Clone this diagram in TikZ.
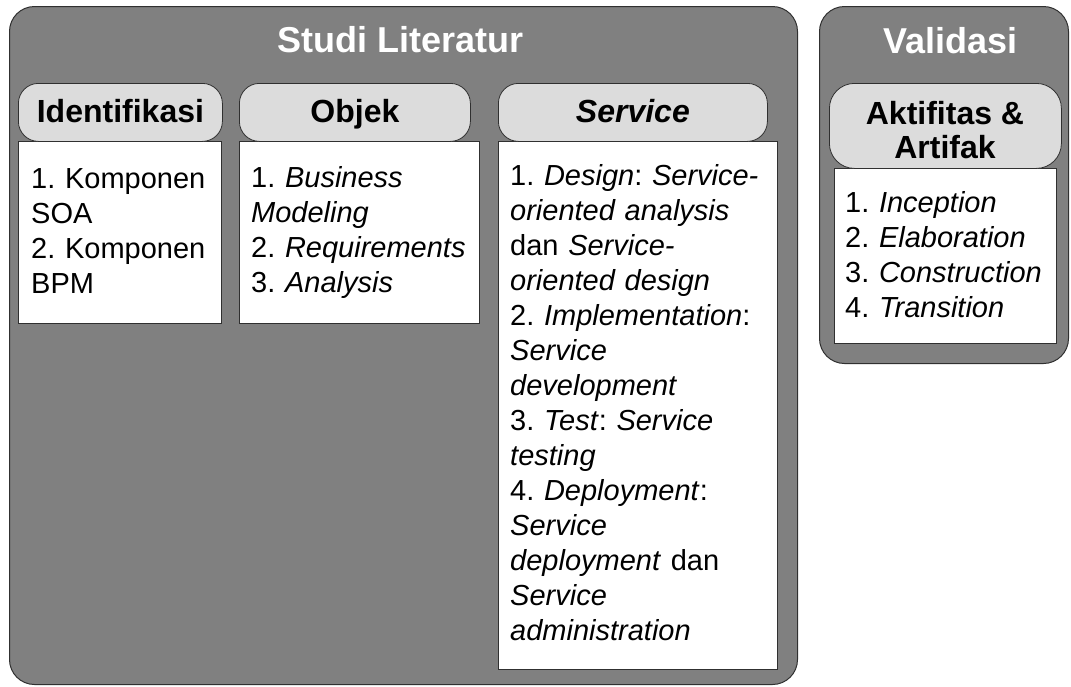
\documentclass[tikz,border=0pt]{standalone}
\usepackage{fontspec}
\setmainfont{Liberation Sans}
\frenchspacing
\definecolor{panelgray}{HTML}{808080}
\definecolor{pillgray}{HTML}{DCDCDC}
\definecolor{edgegray}{HTML}{303030}
\tikzset{
  panel/.style={draw=edgegray, line width=1pt, fill=panelgray, rounded corners=25pt,
    inner sep=0pt, anchor=north west},
  pill/.style={draw=edgegray, line width=0.8pt, fill=pillgray, rounded corners=#1,
    inner sep=0pt, anchor=north west},
  listbox/.style={draw=edgegray, line width=1pt, fill=white, inner sep=0pt, anchor=north west},
  paneltitle/.style={text=white, font=\fontsize{36}{40}\selectfont\bfseries,
    anchor=base, inner sep=0pt},
  pilltitle/.style={font=\fontsize{32}{33}\selectfont\bfseries, anchor=base, inner sep=0pt},
  pilltitletwo/.style={font=\fontsize{32}{33}\selectfont\bfseries, anchor=north,
    inner sep=0pt, align=center},
  listtext/.style={font=\fontsize{29}{35}\selectfont\frenchspacing, anchor=north west,
    inner sep=0pt, align=left, text width=#1},
}
\begin{document}
\begin{tikzpicture}[x=1pt, y=-1pt]
  \useasboundingbox (0,0) rectangle (1071,686);

  % outer panels
  \node[panel, minimum width=788pt, minimum height=678pt] (lit) at (9,6) {};
  \node[panel, minimum width=249pt, minimum height=357pt] (val) at (819,6) {};
  \node[paneltitle] (littitle) at (400.5,52) {Studi Literatur};
  \node[paneltitle] (valtitle) at (950.5,53) {Validasi};

  % list boxes
  \node[listbox, minimum width=203pt, minimum height=182pt] (idbox) at (18,141) {};
  \node[listbox, minimum width=240pt, minimum height=182pt] (objbox) at (239,141) {};
  \node[listbox, minimum width=279pt, minimum height=528pt] (svcbox) at (498,141) {};
  \node[listbox, minimum width=222pt, minimum height=175pt] (actbox) at (834,168) {};

  % header pills
  \node[pill=20pt, minimum width=204pt, minimum height=58pt] (idhead) at (18,83) {};
  \node[pill=20pt, minimum width=231pt, minimum height=58pt] (objhead) at (239,83) {};
  \node[pill=20pt, minimum width=269pt, minimum height=58pt] (svchead) at (498,83) {};
  \node[pill=25pt, minimum width=232pt, minimum height=85pt] (acthead) at (829,83) {};

  \node[pilltitle] (idlabel) at (idhead.center |- 0,122) {Identifikasi};
  \node[pilltitle] (objlabel) at (objhead.center |- 0,122) {Objek};
  \node[pilltitle] (svclabel) at (svchead.center |- 0,122) {\itshape Service};
  \node[pilltitletwo] (actlabel) at (945,100.9) {\strut Aktifitas \&\\Artifak};

  % list contents
  \node[listtext=185pt] (idtext) at (31,163.5)
    {\strut 1. Komponen\\SOA\\2. Komponen\\BPM};
  \node[listtext=225pt] (objtext) at (251,162.5)
    {\strut 1. \textit{Business}\\\textit{Modeling}\\2. \textit{Requirements}\\3. \textit{Analysis}};
  \node[listtext=265pt] (svctext) at (510,160.5)
    {\strut 1. \textit{Design}: \textit{Service-}\\
     \textit{oriented analysis}\\
     dan \textit{Service-}\\
     \textit{oriented design}\\
     2. \textit{Implementation}:\\
     \textit{Service}\\
     \textit{development}\\
     3. \textit{Test}: \textit{Service}\\
     \textit{testing}\\
     4. \textit{Deployment}:\\
     \textit{Service}\\
     \textit{deployment} dan\\
     \textit{Service}\\
     \textit{administration}};
  \node[listtext=210pt] (acttext) at (845,187.5)
    {\strut 1. \textit{Inception}\\2. \textit{Elaboration}\\3. \textit{Construction}\\4. \textit{Transition}};
\end{tikzpicture}
\end{document}
